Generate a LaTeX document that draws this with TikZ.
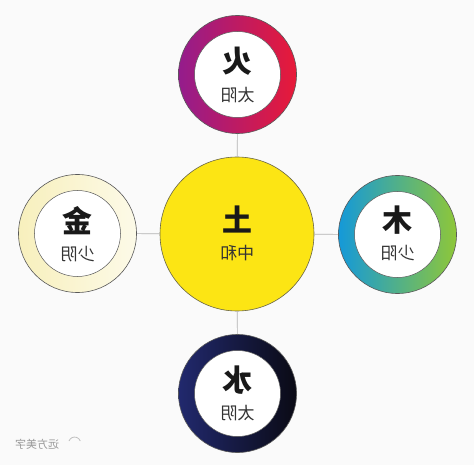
\documentclass[tikz,border=0pt]{standalone}
\usepackage{fontspec}
\newfontfamily\cjk{Noto Sans CJK SC}
\definecolor{bgcol}{rgb}{0.98,0.98,0.98}
\definecolor{firea}{rgb}{0.58,0.11,0.55}
\definecolor{fireb}{rgb}{0.91,0.10,0.22}
\definecolor{wooda}{rgb}{0.08,0.60,0.85}
\definecolor{woodb}{rgb}{0.56,0.78,0.22}
\definecolor{watera}{rgb}{0.13,0.16,0.43}
\definecolor{waterb}{rgb}{0.04,0.04,0.08}
\definecolor{metala}{rgb}{0.97,0.94,0.74}
\definecolor{metalb}{rgb}{0.99,0.98,0.91}
\definecolor{earthcol}{rgb}{0.99,0.90,0.08}
\begin{document}
\begin{tikzpicture}[x=1bp,y=-1bp,
  ring/.style={circle,minimum size=118bp,inner sep=0pt,draw=black!65,line width=0.6bp},
  hole/.style={circle,minimum size=86bp,inner sep=0pt,fill=white,draw=black!65,line width=0.5bp},
  mirrored/.style={xscale=-1},
  sign/.style={font=\cjk\bfseries\fontsize{30bp}{30bp}\selectfont,text=black!90,mirrored},
  yin/.style={font=\cjk\fontsize{17bp}{17bp}\selectfont,text=black!80,mirrored},
  link/.style={draw=black!30,line width=0.6bp}]
\fill[bgcol] (0,0) rectangle (474,465);
\useasboundingbox (0,0) rectangle (474,465);
%%
  % Node: earth
  \node[circle,minimum size=154bp,inner sep=0pt,fill=earthcol,draw=black!60!yellow!80!black,line width=0.6bp] (earth) at (237,234) {};
  \node[sign] (earth-sign) at (237,220) {土};
  \node[yin] (earth-yin) at (237,253) {中和};
  % Node: fire
  \node[ring,left color=firea,right color=fireb] (fire) at (237.5,74.5) {};
  \node[hole] (fire-hole) at (fire) {};
  \node[sign] (fire-sign) at (237.5,61) {火};
  \node[yin] (fire-yin) at (237.5,95) {太阳};
  % Node: metal
  \node[ring,left color=metala,right color=metalb] (metal) at (77.5,233.5) {};
  \node[hole] (metal-hole) at (metal) {};
  \node[sign] (metal-sign) at (77.5,221) {金};
  \node[yin] (metal-yin) at (77.5,254) {少阴};
  % Node: wood
  \node[ring,left color=wooda,right color=woodb] (wood) at (397.5,234.5) {};
  \node[hole] (wood-hole) at (wood) {};
  \node[sign] (wood-sign) at (397.5,220) {木};
  \node[yin] (wood-yin) at (397.5,253) {少阳};
  % Node: water
  \node[ring,left color=watera,right color=waterb] (water) at (237.5,393.5) {};
  \node[hole] (water-hole) at (water) {};
  \node[sign] (water-sign) at (237.5,380) {水};
  \node[yin] (water-yin) at (237.5,413) {太阴};
  % Edge: earth -- fire, metal, wood, water
  \draw[link] (earth) -- (fire);
  \draw[link] (earth) -- (metal);
  \draw[link] (earth) -- (wood);
  \draw[link] (earth) -- (water);
  % Node: mark
  \node[mirrored,font=\cjk\fontsize{11bp}{11bp}\selectfont,text=black!40] (mark) at (37,444) {远方美字};
  \draw[black!25,line width=0.8bp] (69,441) arc (200:340:6);
%
\end{tikzpicture}
\end{document}
